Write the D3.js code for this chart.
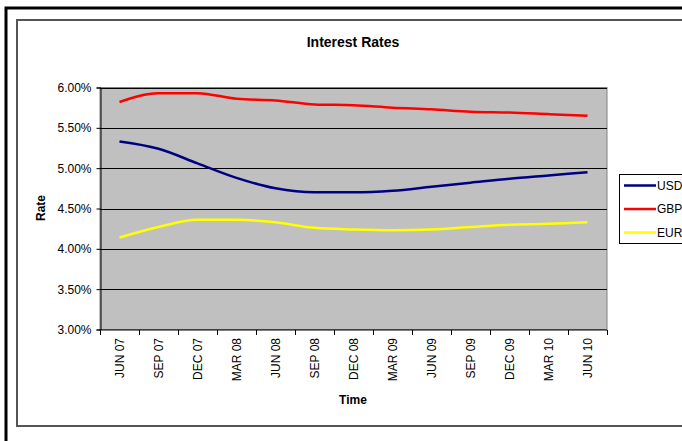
<!DOCTYPE html>
<html><head><meta charset="utf-8">
<script src="https://cdn.jsdelivr.net/npm/d3@7"></script>
<style>body{margin:0;background:#fff;}svg{display:block;font-family:"Liberation Sans",Arial,sans-serif;}</style>
</head><body>
<svg id="c" width="682" height="441"></svg>
<script>
const categories = ["JUN 07","SEP 07","DEC 07","MAR 08","JUN 08","SEP 08","DEC 08","MAR 09","JUN 09","SEP 09","DEC 09","MAR 10","JUN 10"];
const usd = [5.33,5.24,5.06,4.88,4.75,4.70,4.70,4.72,4.77,4.82,4.87,4.91,4.95];
const gbp = [5.82,5.93,5.93,5.86,5.84,5.79,5.78,5.75,5.73,5.70,5.69,5.67,5.65];
const eur = [4.14,4.27,4.36,4.36,4.33,4.26,4.24,4.23,4.24,4.27,4.30,4.31,4.33];
const yTicks = [3.0,3.5,4.0,4.5,5.0,5.5,6.0];
const seriesNames = ["USD","GBP","EUR"];
const seriesColors = ["#000080","#FF0000","#FFFF00"];
const seriesData = [usd,gbp,eur];

const svg = d3.select("#c");
svg.append("rect").attr("x",6).attr("y",8).attr("width",700).attr("height",460)
  .attr("fill","none").attr("stroke","#000").attr("stroke-width",3);
svg.append("rect").attr("x",17).attr("y",20).attr("width",700).attr("height",406)
  .attr("fill","#fff").attr("stroke","#555").attr("stroke-width",2);

const L=100,R=607,T=87.5,B=329.5;
const x = d3.scaleBand().domain(categories).range([L,R]);
const y = d3.scaleLinear().domain([3,6]).range([B,T]);

svg.append("rect").attr("x",L).attr("y",T).attr("width",R-L).attr("height",B-T)
  .attr("fill","#C0C0C0").attr("stroke","#808080").attr("stroke-width",1);

svg.append("g").selectAll("line").data(yTicks.filter(d=>d>3)).join("line")
  .attr("x1",L).attr("x2",R).attr("y1",d=>Math.round(y(d))+0.5).attr("y2",d=>Math.round(y(d))+0.5)
  .attr("stroke","#000").attr("stroke-width",1);

const yAxis = svg.append("g").attr("transform",`translate(${L+0.5},0)`)
  .call(d3.axisLeft(y).tickValues(yTicks).tickFormat(d=>d.toFixed(2)+"%").tickSize(4).tickPadding(5));
yAxis.select(".domain").attr("stroke","#000");
yAxis.selectAll("text").attr("font-size",12).attr("fill","#000").attr("font-family","Liberation Sans, Arial, sans-serif");

const xAxisG = svg.append("g").attr("transform",`translate(0,${B+0.5})`);
xAxisG.append("line").attr("x1",L).attr("x2",R).attr("stroke","#000");
const tickPos = categories.map(c=>x(c)).concat([x(categories[categories.length-1])+x.bandwidth()]);
xAxisG.selectAll("line.t").data(tickPos).join("line").attr("class","t")
  .attr("x1",d=>Math.round(d)+0.5).attr("x2",d=>Math.round(d)+0.5).attr("y1",0).attr("y2",5).attr("stroke","#000");
xAxisG.selectAll("text").data(categories).join("text")
  .attr("transform",d=>`translate(${x(d)+x.bandwidth()/2+4.5},8) rotate(-90)`)
  .attr("text-anchor","end").attr("font-size",12).attr("fill","#000").text(d=>d);

const line = d3.line().x((d,i)=>x(categories[i])+x.bandwidth()/2).y(d=>y(d)).curve(d3.curveMonotoneX);
seriesData.forEach((s,k)=>{
  svg.append("path").datum(s).attr("d",line).attr("fill","none")
    .attr("stroke",seriesColors[k]).attr("stroke-width",2.5).attr("stroke-linejoin","round");
});

svg.append("text").attr("x",353).attr("y",47).attr("text-anchor","middle")
  .attr("font-size",14).attr("font-weight","bold").text("Interest Rates");
svg.append("text").attr("transform","translate(45,208) rotate(-90)").attr("text-anchor","middle")
  .attr("font-size",12).attr("font-weight","bold").text("Rate");
svg.append("text").attr("x",353).attr("y",404).attr("text-anchor","middle")
  .attr("font-size",12).attr("font-weight","bold").text("Time");

const lg = svg.append("g");
lg.append("rect").attr("x",619.5).attr("y",174.5).attr("width",80).attr("height",69)
  .attr("fill","#fff").attr("stroke","#000").attr("stroke-width",1);
seriesNames.forEach((n,k)=>{
  const yy = 185.5 + k*23.5;
  lg.append("line").attr("x1",624).attr("x2",656).attr("y1",yy).attr("y2",yy)
    .attr("stroke",seriesColors[k]).attr("stroke-width",2.5);
  lg.append("text").attr("x",657).attr("y",yy+4).attr("font-size",12).text(n);
});
</script>
</body></html>
